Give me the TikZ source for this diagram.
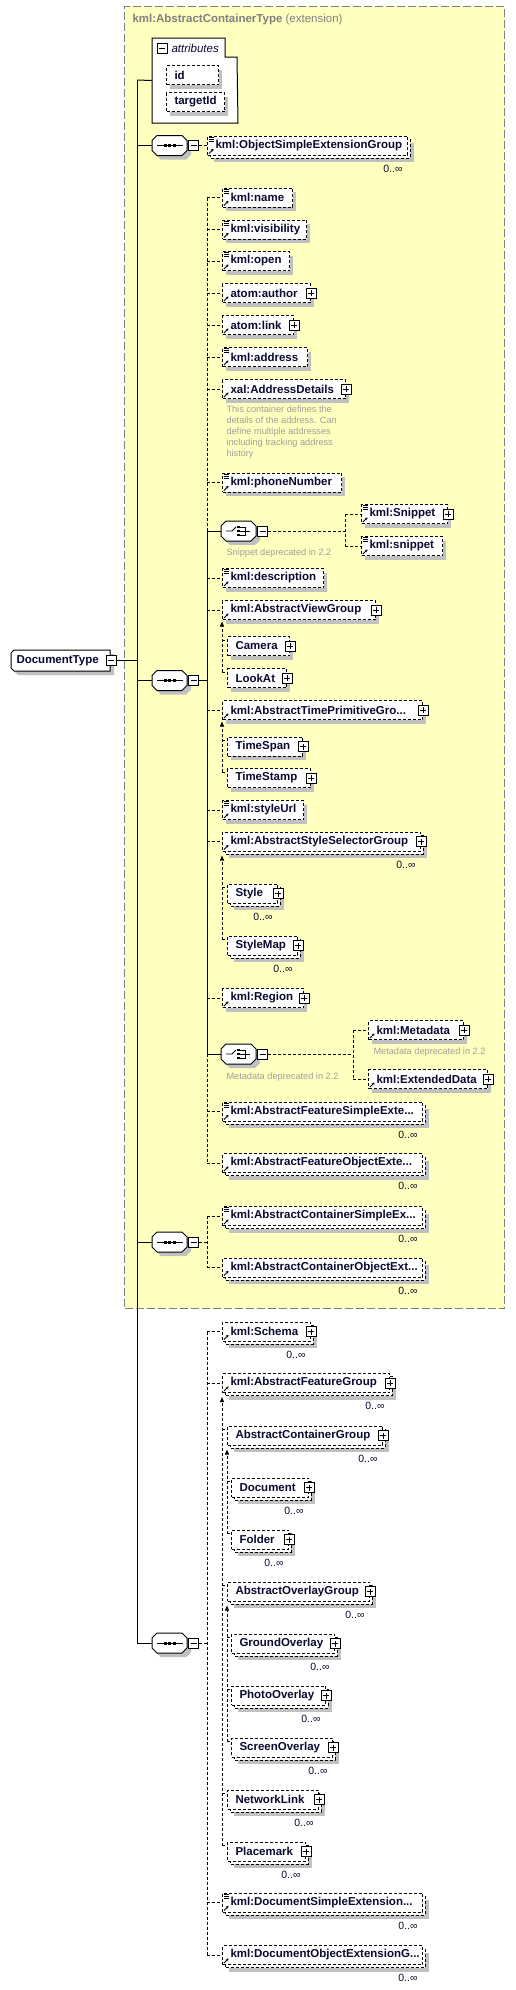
\documentclass[tikz,border=0pt]{standalone}
\usepackage{fontspec}
\setmainfont{Liberation Sans}
\usetikzlibrary{calc,arrows.meta}
\definecolor{yel}{HTML}{FFFFC0}
\definecolor{shd}{HTML}{C0C0C0}
\definecolor{cmt}{HTML}{A0A098}
\definecolor{ttl}{HTML}{808080}
\definecolor{txt}{HTML}{0A0A30}
\newcommand\myfs[1]{\fontsize{#1}{#1}\selectfont}
\tikzset{
  dconn/.style={dash pattern=on 3pt off 2pt},
  elem/.style={draw, dash pattern=on 3pt off 2pt, fill=white, anchor=west, inner xsep=8pt, inner ysep=0pt, minimum height=19pt, font=\bfseries\myfs{11.5}, text=txt},
  backbox/.style={draw, dash pattern=on 3pt off 2pt, fill=white},
  pbox/.style={draw, solid, fill=white, minimum size=10pt, inner sep=0pt,
    path picture={\draw[solid,line width=1pt] ([xshift=-3pt]path picture bounding box.center) -- ([xshift=3pt]path picture bounding box.center);
                  \draw[solid,line width=1pt] ([yshift=-3pt]path picture bounding box.center) -- ([yshift=3pt]path picture bounding box.center);}},
  mbox/.style={draw, solid, fill=white, minimum size=10pt, inner sep=0pt,
    path picture={\draw[solid,line width=1pt] ([xshift=-3pt]path picture bounding box.center) -- ([xshift=3pt]path picture bounding box.center);}},
  occ/.style={anchor=base east, inner sep=0pt, font=\myfs{10.5}, text=txt},
  cmtx/.style={anchor=north west, inner sep=0pt, align=left, font=\fontsize{9.2}{11}\selectfont, text=cmt},
  uptip/.style={-{Triangle[length=5pt,width=4pt]}},
}
% single element: [opts]{name}{x}{y}{w}{text}
\newcommand\xEl[6][]{%
  \fill[shd] (#3+4,#4-5.5) rectangle (#3+#5+4,#4+13.5);
  \pgfmathsetmacro\tw{#5-16}%
  \node[elem,#1] (#2) at (#3,#4) {\makebox[\tw pt][l]{#6}};}
% multiple-occurrence element
\newcommand\xElm[6][]{%
  \fill[shd] (#3+7,#4-2.5) rectangle (#3+#5+7,#4+16.5);
  \draw[backbox] (#3+3,#4-6.5) rectangle (#3+#5+3,#4+12.5);
  \pgfmathsetmacro\tw{#5-16}%
  \node[elem,#1] (#2) at (#3,#4) {\makebox[\tw pt][l]{#6}};}
\newcommand\xSimp[1]{\foreach \d in {1.5,3.5,5.5} \draw[solid,line width=0.8pt] ($(#1.north west)+(2,\d)$) -- ++(5,0);}
\newcommand\xRef[1]{\draw[solid,line width=0.9pt,-{Stealth[length=2.5pt,width=3pt]}] ($(#1.south west)+(2,-2)$) -- ($(#1.south west)+(6.5,-6.5)$);}
\newcommand\xPl[1]{\node[pbox] (#1-p) at (#1.east) {};}
\newcommand\xOcc[1]{\node[occ] (#1-o) at ($(#1.south east)+(-5,16.5)$) {0..∞};}
\newcommand\xOct[3]{%
  \fill[shd] (#2+9,#3-6) -- (#2+34,#3-6) -- (#2+39,#3-1) -- (#2+39,#3+9) -- (#2+34,#3+14) -- (#2+9,#3+14) -- (#2+4,#3+9) -- (#2+4,#3-1) -- cycle;
  \draw[fill=white] (#2+5,#3-10) -- (#2+30,#3-10) -- (#2+35,#3-5) -- (#2+35,#3+5) -- (#2+30,#3+10) -- (#2+5,#3+10) -- (#2,#3+5) -- (#2,#3-5) -- cycle;
  \node[inner sep=0pt, minimum width=35pt, minimum height=20pt, anchor=west] (#1) at (#2,#3) {};
  \node[mbox, anchor=west] (#1-m) at (#1.east) {};}
\newcommand\xSeqIc[1]{%
  \draw ($(#1.west)+(5,0)$) -- ($(#1.east)+(-5,0)$);
  \foreach \d in {13,17.5,22} \fill ($(#1.west)+(\d,0)$) ++(-1.5,-1.5) rectangle ++(3,3);}
\newcommand\xChIc[1]{%
  \draw[line width=0.9pt] ($(#1.west)+(5,0)$) -- ($(#1.west)+(11,0)$) -- ($(#1.west)+(15,-4)$);
  \foreach \d in {-4,0,4} \fill ($(#1.west)+(17.5,\d)$) ++(-1.3,-1.3) rectangle ++(2.6,2.6);
  \draw[line width=0.9pt] ($(#1.west)+(19,-4)$) -- ($(#1.west)+(24,-4)$) -- ($(#1.west)+(24,4)$) -- ($(#1.west)+(19,4)$);
  \draw[line width=0.9pt] ($(#1.west)+(19,0)$) -- ($(#1.west)+(29,0)$);}
% substitution group: {vertical coord}{head}{last member}{tip offset}
\newcommand\xSubG[4]{\draw[dconn,uptip] ($(#1 |- #3.north west)+(0,4)$) -- ($(#1 |- #2.south west)+(0,#4)$);}
\newcommand\xMem[2]{\draw[dconn] ($(#1 |- #2.north west)+(0,4)$) -- ($(#2.north west)+(0,4)$);}
\begin{document}
\begin{tikzpicture}[x=1pt,y=-1pt,line width=1pt]
\useasboundingbox (0,0) rectangle (515,1990);
% extension box
\node[draw=ttl, fill=yel, dash pattern=on 8pt off 3pt, minimum width=380pt, minimum height=1302.5pt, anchor=north west, inner sep=0pt] (ext) at (124,5.5) {};
\node[anchor=base west, inner sep=0pt, text=ttl, font=\myfs{11.5}] (title) at (132,22) {\textbf{kml:AbstractContainerType} (extension)};
% DocumentType
\fill[shd] (18,654) -- (114,654) -- (114,675) -- (18,675) -- (15,672) -- (15,657) -- cycle;
\draw[fill=white] (14,650) -- (110,650) -- (110,671) -- (14,671) -- (11,668) -- (11,653) -- cycle;
\node[anchor=west, inner xsep=5pt, inner ysep=0pt, minimum height=21pt, font=\bfseries\myfs{11.5}, text=txt] (doc) at (11,660.5) {\makebox[89pt][l]{DocumentType}};
\node[mbox] (doc-m) at (doc.east) {};
% attributes
\node[inner sep=0pt, minimum width=85pt, minimum height=84pt, anchor=north west] (attr) at (152,38) {};
\draw[fill=white] (attr.north west) -- ++(73,0) -- ++(0,19) -- ++(12,0) -- (attr.south east) -- (attr.south west) -- cycle;
\node[mbox] (attr-m) at (162,48) {};
\node[anchor=west, inner sep=0pt, font=\itshape\myfs{11.5}, text=txt] (attr-t) at (171,48) {attributes};
\xEl{aid}{166}{75}{52}{id}
\xEl{atg}{166}{102}{58}{targetId}
% sequence 1
\xOct{seq1}{152}{145.5}\xSeqIc{seq1}
\xElm{osg}{207}{145.5}{200}{kml:ObjectSimpleExtensionGroup}\xSimp{osg}\xRef{osg}\xOcc{osg}
% sequence 2
\xOct{seq2}{152}{680.5}\xSeqIc{seq2}
\xEl{nm}{222}{197.5}{70}{kml:name}\xSimp{nm}\xRef{nm}
\xEl{vis}{222}{229.5}{84}{kml:visibility}\xSimp{vis}\xRef{vis}
\xEl{opn}{222}{261}{67}{kml:open}\xSimp{opn}\xRef{opn}
\xEl{auth}{222}{293}{88}{atom:author}\xRef{auth}\xPl{auth}
\xEl{lnk}{222}{325}{71}{atom:link}\xRef{lnk}\xPl{lnk}
\xEl{addr}{222}{357}{85}{kml:address}\xSimp{addr}\xRef{addr}
\xEl{xal}{222}{389}{123}{xal:AddressDetails}\xRef{xal}\xPl{xal}
\node[cmtx] (cm1) at (226,405.5) {This container defines the\\details of the address. Can\\define multiple addresses\\including tracking address\\history};
\xEl{phone}{222}{482.5}{119}{kml:phoneNumber}\xSimp{phone}\xRef{phone}
\xOct{ch1}{221}{531}\xChIc{ch1}
\node[cmtx] (cm2) at (226,548) {Snippet deprecated in 2.2};
\xEl{snA}{361}{514}{86}{kml:Snippet}\xSimp{snA}\xRef{snA}\xPl{snA}
\xEl{snB}{361}{546}{81}{kml:snippet}\xSimp{snB}\xRef{snB}
\xEl{desc}{222}{578}{101}{kml:description}\xSimp{desc}\xRef{desc}
\xEl{avg}{222}{610}{153}{kml:AbstractViewGroup}\xRef{avg}\xPl{avg}
\xEl{cam}{227}{646}{62}{Camera}\xPl{cam}
\xEl{look}{227}{678}{59}{LookAt}\xPl{look}
\xEl{atp}{222}{710}{200}{kml:AbstractTimePrimitiveGro...}\xRef{atp}\xPl{atp}
\xEl{tspan}{227}{746.5}{75}{TimeSpan}\xPl{tspan}
\xEl{tstamp}{227}{778}{83}{TimeStamp}\xPl{tstamp}
\xEl{surl}{222}{810}{81}{kml:styleUrl}\xSimp{surl}\xRef{surl}
\xElm{ass}{222}{841.5}{198}{kml:AbstractStyleSelectorGroup}\xRef{ass}\xPl{ass}\xOcc{ass}
\xElm{sty}{227}{893.5}{50}{Style}\xPl{sty}\xOcc{sty}
\xElm{smap}{227}{945.5}{70}{StyleMap}\xPl{smap}\xOcc{smap}
\xEl{reg}{222}{998}{81}{kml:Region}\xRef{reg}\xPl{reg}
\xOct{ch2}{221}{1054}\xChIc{ch2}
\node[cmtx] (cm3) at (226,1072) {Metadata deprecated in 2.2};
\xEl{meta}{368}{1030}{95}{kml:Metadata}\xRef{meta}\xPl{meta}
\node[cmtx] (cm4) at (373,1047.5) {Metadata deprecated in 2.2};
\xEl{ext}{368}{1079}{119}{kml:ExtendedData}\xRef{ext}\xPl{ext}
\xElm{afs}{222}{1111.5}{200}{kml:AbstractFeatureSimpleExte...}\xSimp{afs}\xRef{afs}\xOcc{afs}
\xElm{afo}{222}{1163}{200}{kml:AbstractFeatureObjectExte...}\xRef{afo}\xOcc{afo}
% sequence 3
\xOct{seq3}{152}{1242}\xSeqIc{seq3}
\xElm{acs}{222}{1216}{200}{kml:AbstractContainerSimpleEx...}\xSimp{acs}\xRef{acs}\xOcc{acs}
\xElm{aco}{222}{1267.5}{200}{kml:AbstractContainerObjectExt...}\xRef{aco}\xOcc{aco}
% sequence 4
\xOct{seq4}{152}{1643}\xSeqIc{seq4}
\xElm{sch}{222}{1331.5}{88}{kml:Schema}\xRef{sch}\xPl{sch}\xOcc{sch}
\xElm{afg}{222}{1383}{167}{kml:AbstractFeatureGroup}\xRef{afg}\xPl{afg}\xOcc{afg}
\xElm{acg}{227}{1435.5}{155}{AbstractContainerGroup}\xPl{acg}\xOcc{acg}
\xElm{docu}{231}{1487.5}{77}{Document}\xPl{docu}\xOcc{docu}
\xElm{fold}{231}{1539.5}{57}{Folder}\xPl{fold}\xOcc{fold}
\xElm{aog}{227}{1591.5}{142}{AbstractOverlayGroup}\xPl{aog}\xOcc{aog}
\xElm{gro}{231}{1643.5}{103}{GroundOverlay}\xPl{gro}\xOcc{gro}
\xElm{pho}{231}{1695.5}{94}{PhotoOverlay}\xPl{pho}\xOcc{pho}
\xElm{scr}{231}{1747.5}{101}{ScreenOverlay}\xPl{scr}\xOcc{scr}
\xElm{nl}{227}{1799.5}{91}{NetworkLink}\xPl{nl}\xOcc{nl}
\xElm{pm}{227}{1851.5}{78}{Placemark}\xPl{pm}\xOcc{pm}
\xElm{dse}{222}{1902.5}{200}{kml:DocumentSimpleExtension...}\xSimp{dse}\xRef{dse}\xOcc{dse}
\xElm{doe}{222}{1955}{200}{kml:DocumentObjectExtensionG...}\xRef{doe}\xOcc{doe}
% ---- connectors ----
\coordinate (busT) at (137,80);
\draw (busT) -- (busT |- seq4.west);
\draw (busT) -- (attr.west);
\draw (doc-m.east) -- (busT |- doc-m.east);
\foreach \s in {seq1,seq2,seq3,seq4} \draw (busT |- \s.west) -- (\s.west);
\draw[dconn] (seq1-m.east) -- (osg.west);
\coordinate (b2) at (207,0);
\draw (seq2-m.east) -- (b2 |- seq2-m.east);
\draw[dconn] (b2 |- nm.west) -- (b2 |- ch1.west);
\draw (b2 |- ch1.west) -- (b2 |- ch2.west);
\draw[dconn] (b2 |- ch2.west) -- (b2 |- afo.west);
\foreach \e in {nm,vis,opn,auth,lnk,addr,xal,phone,desc,avg,atp,surl,ass,reg,afs,afo} \draw[dconn] (b2 |- \e.west) -- (\e.west);
\draw (b2 |- ch1.west) -- (ch1.west);
\draw (b2 |- ch2.west) -- (ch2.west);
\coordinate (c1) at (345,0);
\draw[dconn] (ch1-m.east) -- (c1 |- ch1-m.east);
\draw[dconn] (c1 |- snA.west) -- (c1 |- snB.west);
\draw[dconn] (c1 |- snA.west) -- (snA.west);
\draw[dconn] (c1 |- snB.west) -- (snB.west);
\coordinate (c2) at (353,0);
\draw[dconn] (ch2-m.east) -- (c2 |- ch2-m.east);
\draw[dconn] (c2 |- meta.west) -- (c2 |- ext.west);
\draw[dconn] (c2 |- meta.west) -- (meta.west);
\draw[dconn] (c2 |- ext.west) -- (ext.west);
\draw[dconn] (seq3-m.east) -- (b2 |- seq3-m.east);
\draw[dconn] (b2 |- acs.west) -- (b2 |- aco.west);
\foreach \e in {acs,aco} \draw[dconn] (b2 |- \e.west) -- (\e.west);
\draw[dconn] (seq4-m.east) -- (b2 |- seq4-m.east);
\draw[dconn] (b2 |- sch.west) -- (b2 |- doe.west);
\foreach \e in {sch,afg,dse,doe} \draw[dconn] (b2 |- \e.west) -- (\e.west);
% substitution groups
\coordinate (vA) at (222,0);
\coordinate (vB) at (227,0);
\xSubG{vA}{avg}{look}{1.5}\xMem{vA}{cam}\xMem{vA}{look}
\xSubG{vA}{atp}{tstamp}{1.5}\xMem{vA}{tspan}\xMem{vA}{tstamp}
\xSubG{vA}{ass}{smap}{4}\xMem{vA}{sty}\xMem{vA}{smap}
\xSubG{vA}{afg}{pm}{4}\xMem{vA}{acg}\xMem{vA}{aog}\xMem{vA}{nl}\xMem{vA}{pm}
\xSubG{vB}{acg}{fold}{4}\xMem{vB}{docu}\xMem{vB}{fold}
\xSubG{vB}{aog}{scr}{4}\xMem{vB}{gro}\xMem{vB}{pho}\xMem{vB}{scr}
\end{tikzpicture}
\end{document}
